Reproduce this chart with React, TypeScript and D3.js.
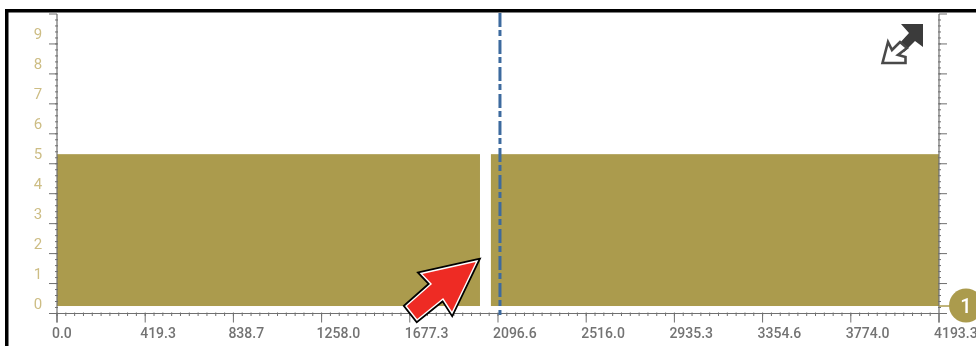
import React from "react";
import * as d3 from "d3";

const xTickLabels = ["0.0","419.3","838.7","1258.0","1677.3","2096.6","2516.0","2935.3","3354.6","3774.0","4193.3"];
const xTickValues = [0,419.33,838.66,1258,1677.3,2096.6,2516,2935.3,3354.6,3774,4193.3];
const yTickValues = [0,1,2,3,4,5,6,7,8,9,10];
const yLabels = [0,1,2,3,4,5,6,7,8,9];
const segmentStart = [0, 2063];
const segmentEnd = [2011, 4193.3];
const traceLow = 0.25;
const traceHigh = 5.32;
const cursorValue = 2106;
const badgeLabel = "1";

const x = d3.scaleLinear().domain([0, 4193.3]).range([57, 939]);
const y = d3.scaleLinear().domain([0, 10]).range([313.5, 14]);
const GOLD = "#ab9b4d";
const AXIS = "#6f6f6f";

const arrow = "M477,261 L421,273.5 L431,284 L406,306 L417,320 L443,299 L452,313 Z";

export default function App() {
  const xMinor = d3.range(0, 100).map(i => (i / 100) * 4193.3);
  const yMinor = d3.range(0, 50).map(i => i / 5);
  return (
    <svg width={976} height={346} style={{ position: "fixed", left: 0, top: 0, background: "#fff" }}>
      <defs>
        <filter id="soft" x="-5%" y="-5%" width="110%" height="110%"><feGaussianBlur stdDeviation="0.45" /></filter>
      </defs>
      <rect x={5} y={9} width={971} height={3.5} fill="#000" />
      <rect x={5} y={9} width={3.5} height={337} fill="#000" />
      <g filter="url(#soft)">
        {segmentStart.map((s, i) => (
          <rect key={i} x={x(s)} y={y(traceHigh)} width={x(segmentEnd[i]) - x(s)} height={y(traceLow) - y(traceHigh)} fill={GOLD} />
        ))}
        <line x1={x(0)} x2={x(0)} y1={y(10)} y2={y(0) + 9} stroke={AXIS} strokeWidth={1.2} />
        <line x1={x(4193.3)} x2={x(4193.3)} y1={y(10)} y2={y(0) + 9} stroke={AXIS} strokeWidth={1.2} />
        <line x1={x(0) - 8} x2={x(4193.3)} y1={y(0)} y2={y(0)} stroke={AXIS} strokeWidth={1.2} />
        {yMinor.map((v, i) => (
          <g key={i} stroke={AXIS} strokeWidth={1}>
            <line x1={x(0) - 2} x2={x(0) + 1} y1={y(v)} y2={y(v)} />
            <line x1={x(4193.3) - 1} x2={x(4193.3) + 2} y1={y(v)} y2={y(v)} />
          </g>
        ))}
        {yTickValues.map(v => (
          <g key={v} stroke={AXIS} strokeWidth={1}>
            <line x1={x(0) - 8} x2={x(0)} y1={y(v)} y2={y(v)} />
            <line x1={x(4193.3)} x2={x(4193.3) + 8} y1={y(v)} y2={y(v)} />
          </g>
        ))}
        {xMinor.map((v, i) => (
          <line key={i} x1={x(v)} x2={x(v)} y1={y(0) - 1} y2={y(0) + 2.5} stroke={AXIS} strokeWidth={1} />
        ))}
        {xTickValues.map(v => (
          <line key={v} x1={x(v)} x2={x(v)} y1={y(0)} y2={y(0) + 9} stroke={AXIS} strokeWidth={1} />
        ))}
        <line x1={x(cursorValue)} x2={x(cursorValue)} y1={13} y2={315} stroke="#3d6a9e" strokeWidth={3} strokeDasharray="14 3 6 4" />
        {yLabels.map(v => (
          <text key={v} x={38} y={y(v) - 5} textAnchor="middle" fontFamily="Roboto" fontSize={15} fill="#cdbd84">{v}</text>
        ))}
        {xTickLabels.map((t, i) => (
          <text key={t} x={x(xTickValues[i]) - 5} y={338} fontFamily="Roboto" fontWeight={500} fontSize={14} fill="#737373">{t}</text>
        ))}
        <line x1={x(4193.3)} x2={955} y1={y(traceLow)} y2={y(traceLow)} stroke={GOLD} strokeWidth={1.5} />
        <circle cx={966} cy={305.5} r={17} fill={GOLD} />
        <text x={966} y={313} textAnchor="middle" fontFamily="Roboto" fontWeight={500} fontSize={20} fill="#fff">{badgeLabel}</text>
        {/* expand icon */}
        <path d="M901,24 L923,24 L923,47 L915,41 L904,52 L898,45 L909,33 Z" fill="#3a3a3a" />
        <path d="M888,42 L882.5,63 L905.5,63 L905.5,57 L898,55 L907,48 L900,42 L892,50 Z" fill="#fff" stroke="#4a4a4a" strokeWidth={2.6} strokeLinejoin="miter" />
      </g>
      <path d={arrow} fill="#000" stroke="#000" strokeWidth={5} strokeLinejoin="miter" strokeMiterlimit={8} />
      <path d={arrow} fill="#ee2b24" stroke="#fff" strokeWidth={1.4} strokeLinejoin="miter" strokeMiterlimit={8} />
    </svg>
  );
}
